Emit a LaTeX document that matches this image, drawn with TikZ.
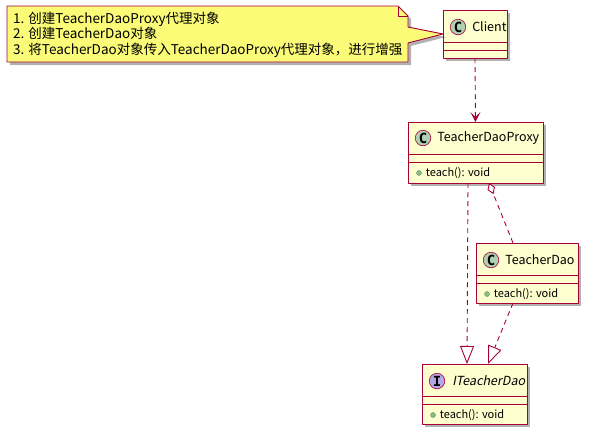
\documentclass[tikz,border=0pt]{standalone}
\usepackage{fontspec}
\setmainfont{Noto Sans CJK SC}[AutoFakeSlant=0.2]
\newfontfamily\spotfont{DejaVu Sans Mono}
\usetikzlibrary{arrows.meta,shadows,positioning}
\definecolor{umlred}{HTML}{A80036}
\definecolor{umlfill}{HTML}{FEFECE}
\definecolor{notefill}{HTML}{FBFB77}
\definecolor{spotc}{HTML}{ADD1B2}
\definecolor{spoti}{HTML}{B4A7E5}
\definecolor{pubdot}{HTML}{84BE84}
\begin{document}
\begin{tikzpicture}[x=1pt,y=-1pt,line join=round,
	umlshadow/.style={drop shadow={shadow xshift=3pt,shadow yshift=-3pt,opacity=0.3,fill=black}},
	umlbox/.style={draw=umlred,fill=umlfill,line width=0.9pt,inner sep=0pt,outer sep=0pt,umlshadow},
	spot/.style={circle,draw=umlred,line width=0.6pt,inner sep=0pt,minimum size=15.5pt,font=\spotfont\bfseries\fontsize{14}{14}\selectfont},
	cname/.style={inner sep=0pt,font=\fontsize{12.5}{14}\selectfont},
	pub/.style={circle,fill=pubdot,draw=pubdot!70!black,line width=0.3pt,inner sep=0pt,minimum size=5pt},
	method/.style={inner sep=0pt,font=\fontsize{11}{13}\selectfont},
	dep/.style={draw=umlred,line width=0.9pt,dash pattern=on 5pt off 4pt},
	]
	\useasboundingbox (0,0) rectangle (591,437);
	% classes
	\node[umlbox,minimum width=64pt,minimum height=48pt] (client) at (475,34) {};
	\node[umlbox,minimum width=135pt,minimum height=61pt] (proxy) at (475.5,152.5) {};
	\node[umlbox,minimum width=102pt,minimum height=60pt] (tdao) at (527,273) {};
	\node[umlbox,minimum width=105pt,minimum height=60pt] (itdao) at (474.5,394) {};
	\foreach \n in {client,proxy,tdao,itdao}
	{
		\draw[umlred,line width=0.9pt] ([yshift=-32.5pt]\n.north west) -- ([yshift=-32.5pt]\n.north east);
		\draw[umlred,line width=0.9pt] ([yshift=-40.5pt]\n.north west) -- ([yshift=-40.5pt]\n.north east);
	}
	% headers
	\node[spot,fill=spotc] (clientC) at (458,27) {C};
	\node[cname,right=6pt of clientC] (clientN) {Client};
	\node[spot,fill=spotc] (proxyC) at (423,138) {C};
	\node[cname,right=6pt of proxyC] (proxyN) {TeacherDaoProxy};
	\node[spot,fill=spotc] (tdaoC) at (491,260) {C};
	\node[cname,right=6pt of tdaoC] (tdaoN) {TeacherDao};
	\node[spot,fill=spoti] (itdaoI) at (437,381) {I};
	\node[cname,right=7pt of itdaoI] (itdaoN) {\itshape ITeacherDao};
	% methods
	\node[pub] (proxyDot) at (419,173) {};
	\node[method,right=4pt of proxyDot] (proxyM) {teach(): void};
	\node[pub] (tdaoDot) at (487,294) {};
	\node[method,right=4pt of tdaoDot] (tdaoM) {teach(): void};
	\node[pub] (itdaoDot) at (433,415) {};
	\node[method,right=4pt of itdaoDot] (itdaoM) {teach(): void};
	% note
	\draw[draw=umlred,fill=notefill,line width=0.9pt,umlshadow] (7,6) -- (398,6) -- (408,16) -- (408,27) -- (client.west) -- (408,43) -- (408,62) -- (7,62) -- cycle;
	\draw[umlred,line width=0.9pt] (398,6) -- (398,16) -- (408,16);
	\node[anchor=west,align=left,inner sep=0pt,font=\fontsize{13.5}{15.5}\selectfont] (note) at (13,34.5) {1. 创建TeacherDaoProxy代理对象\\2. 创建TeacherDao对象\\3. 将TeacherDao对象传入TeacherDaoProxy代理对象，进行增强};
	% relations
	\draw[dep,-{Stealth[length=10pt,width=10pt,inset=5pt,fill=umlred]}] (client.south) -- (proxy.north);
	\draw[dep,-{Triangle[open,length=18pt,width=14pt,fill=white]}] ([xshift=-7.5pt]proxy.south) -- ([xshift=-7.5pt]itdao.north);
	\draw[dep,-{Triangle[open,length=18pt,width=14pt,fill=white]}] ([xshift=-14pt]tdao.south) -- ([xshift=13.5pt]itdao.north);
	\draw[dep,-{Diamond[open,length=12pt,width=8pt,fill=white]}] ([xshift=-14pt]tdao.north) -- ([xshift=13.5pt]proxy.south);
\end{tikzpicture}
\end{document}
